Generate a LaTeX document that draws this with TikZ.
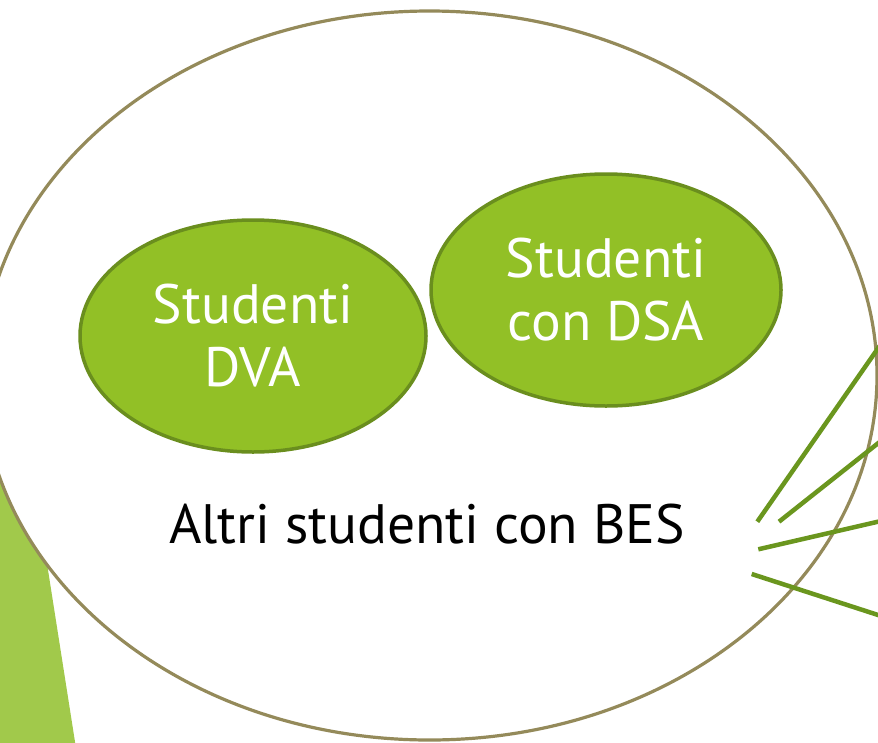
\documentclass[tikz,border=0pt]{standalone}
\usepackage{fontspec}
\setmainfont{PT Sans}
\usetikzlibrary{shapes.geometric}
\definecolor{rimcol}{RGB}{148,138,90}
\definecolor{blobfill}{RGB}{146,192,38}
\definecolor{blobline}{RGB}{106,142,30}
\definecolor{rayline}{RGB}{106,150,30}
\definecolor{wedgefill}{RGB}{161,201,75}
\begin{document}
\begin{tikzpicture}[x=1pt,y=-1pt,
  bigtext/.style={font=\fontsize{55.5}{63}\selectfont},
  blob/.style={ellipse, draw=blobline, fill=blobfill, line width=3.5pt, inner sep=0pt,
    text=white, align=center, bigtext},
  rim/.style={ellipse, draw=rimcol, fill=white, line width=3.2pt, inner sep=0pt},
  ray/.style={draw=rayline, line width=4.5pt},
  ]
\useasboundingbox (0,0) rectangle (878,742);
\clip (0,0) rectangle (878,742);
\fill[wedgefill] (0,300) -- (5.6,300) -- (75.5,745) -- (0,745) -- cycle;
\node[rim, minimum width=895pt, minimum height=729pt] (bes) at (429.5,375.5) {};
\node[blob, minimum width=346pt, minimum height=232pt] (dva) at (253,336) {Studenti\\DVA};
\node[blob, minimum width=350pt, minimum height=232pt] (dsa) at (606,290) {Studenti\\con DSA};
\node[bigtext, anchor=base, inner sep=0pt] (altri) at (427,543) {Altri studenti con BES};
\coordinate (r1a) at (757.3,521.7); \coordinate (r1b) at (920,288);
\coordinate (r2a) at (779,521.7);   \coordinate (r2b) at (920,410);
\coordinate (r3a) at (758.3,549.3); \coordinate (r3b) at (920,512);
\coordinate (r4a) at (751.7,574);   \coordinate (r4b) at (920,628.6);
\draw[ray] (r1a) -- (r1b);
\draw[ray] (r2a) -- (r2b);
\draw[ray] (r3a) -- (r3b);
\draw[ray] (r4a) -- (r4b);
\end{tikzpicture}
\end{document}
